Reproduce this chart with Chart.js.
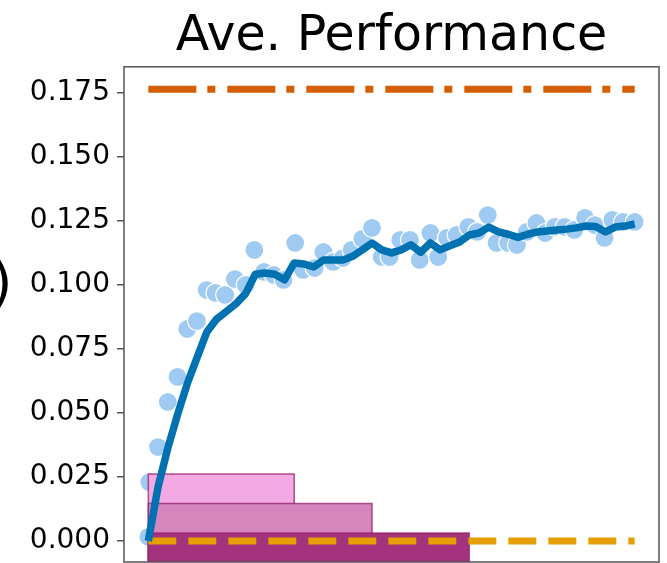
<!DOCTYPE html>
<html>
<head>
<meta charset="utf-8">
<title>Ave. Performance</title>
<script src="https://cdn.jsdelivr.net/npm/chart.js@4/dist/chart.umd.min.js"></script>
<style>
  html, body { margin: 0; padding: 0; background: #ffffff; overflow: hidden; }
  #wrap { position: relative; width: 667px; height: 563px; }
  #chart { position: absolute; left: 0; top: 0; }
  #sideMark {
    position: absolute; left: -9px; top: 255px;
    font-family: "DejaVu Sans", sans-serif; font-size: 55px; line-height: 55px;
    color: #000;
  }
</style>
</head>
<body>
<div id="wrap">
  <canvas id="chart" width="667" height="563"></canvas>
  <div id="sideMark">)</div>
</div>
<script>
// Training steps for the running-average curve
const steps = [0, 1, 2, 3, 4, 5, 6, 7, 8, 9, 10, 11, 12, 13, 14, 15, 16, 17, 18, 19, 20,
  21, 22, 23, 24, 25, 26, 27, 28, 29, 30, 31, 32, 33, 34, 35, 36, 37, 38, 39, 40,
  41, 42, 43, 44, 45, 46, 47, 48, 49, 50];

// Smoothed average performance per step
const avgPerformance = [0.0000, 0.0211, 0.0362, 0.0493, 0.0614, 0.0715, 0.0815, 0.0866, 0.0896, 0.0926,
  0.0966, 0.1042, 0.1047, 0.1042, 0.1020, 0.1086, 0.1082, 0.1070, 0.1097, 0.1097,
  0.1097, 0.1112, 0.1137, 0.1164, 0.1137, 0.1125, 0.1137, 0.1157, 0.1128, 0.1164,
  0.1137, 0.1153, 0.1168, 0.1195, 0.1203, 0.1226, 0.1207, 0.1198, 0.1186, 0.1198,
  0.1207, 0.1211, 0.1215, 0.1218, 0.1223, 0.1230, 0.1228, 0.1207, 0.1226, 0.1230,
  0.1238];

// Raw evaluations (step, value)
const scatterSteps = [0, 0.1, 1, 2, 3, 4, 5, 6, 6.9, 7.9, 8.9, 10, 10.9, 11.9, 12.9, 13.9,
  15.1, 15.9, 17.1, 18, 19, 20, 20.9, 22, 23, 24, 24.8, 25.9, 26.9, 27.9, 29, 29.8,
  30.7, 31.7, 32.9, 33.8, 34.9, 35.8, 37, 37.9, 38.9, 39.9, 40.8, 41.8, 42.8, 43.8,
  44.9, 45.9, 46.9, 47.7, 48.8, 50];
const scatterPerformance = [0.0016, 0.0230, 0.0367, 0.0543, 0.0641, 0.0828, 0.0859, 0.0980, 0.0969, 0.0961,
  0.1023, 0.1000, 0.1137, 0.1051, 0.1039, 0.1020, 0.1164, 0.1059, 0.1066, 0.1129,
  0.1090, 0.1105, 0.1137, 0.1180, 0.1223, 0.1109, 0.1109, 0.1176, 0.1176, 0.1098,
  0.1203, 0.1109, 0.1184, 0.1195, 0.1227, 0.1207, 0.1273, 0.1164, 0.1164, 0.1156,
  0.1207, 0.1242, 0.1203, 0.1227, 0.1227, 0.1215, 0.1262, 0.1234, 0.1184, 0.1254,
  0.1246, 0.1246];

// Shaded phases: each spans from step 0 to its end step, up to its height
const bandEnds = [15, 23, 33];
const bandTops = [0.0262, 0.0146, 0.0031];
const bandFills = ['#f3a9e2', '#d587bd', '#a2337c'];

// Reference levels
const upperReference = 0.1764;
const lowerReference = 0.0;

// Y tick labels
const yTicks = [0.000, 0.025, 0.050, 0.075, 0.100, 0.125, 0.150, 0.175];

const Y_MIN = -0.0082;
const Y_MAX = 0.1852;
const X_MIN = -2.5;
const X_MAX = 52.5;

const firstStep = steps[0];
const lastStep = steps[steps.length - 1];

const curve = steps.map((s, i) => ({ x: s, y: avgPerformance[i] }));
const evals = scatterSteps.map((s, i) => ({ x: s, y: scatterPerformance[i] }));

// Later (lower, longer) phases are painted over the earlier ones
const bandDatasets = bandEnds.map((end, i) => ({
  type: 'line',
  data: [
    { x: firstStep, y: Y_MIN },
    { x: firstStep, y: bandTops[i] },
    { x: end, y: bandTops[i] },
    { x: end, y: Y_MIN }
  ],
  borderColor: 'rgba(150, 30, 110, 0.75)',
  borderWidth: 1.5,
  backgroundColor: bandFills[i],
  fill: 'start',
  pointRadius: 0,
  tension: 0,
  order: 3 + (bandEnds.length - 1 - i)
}));

// Frame around the plotting area
const framePlugin = {
  id: 'frame',
  afterDraw(chart) {
    const { ctx, chartArea: a } = chart;
    ctx.save();
    ctx.strokeStyle = '#555555';
    ctx.lineWidth = 1.5;
    ctx.strokeRect(a.left, a.top, a.right - a.left, a.bottom - a.top);
    ctx.restore();
  }
};

new Chart(document.getElementById('chart'), {
  type: 'line',
  data: {
    datasets: [
      {
        type: 'line',
        data: curve,
        borderColor: '#0072b2',
        borderWidth: 7.5,
        borderJoinStyle: 'round',
        borderCapStyle: 'butt',
        pointRadius: 0,
        tension: 0,
        fill: false,
        order: 0
      },
      {
        type: 'line',
        data: [{ x: firstStep, y: upperReference }, { x: lastStep, y: upperReference }],
        borderColor: '#d55e00',
        borderWidth: 7,
        borderDash: [48, 11, 8, 12],
        borderCapStyle: 'butt',
        pointRadius: 0,
        fill: false,
        order: 1
      },
      {
        type: 'line',
        data: [{ x: firstStep, y: lowerReference }, { x: lastStep, y: lowerReference }],
        borderColor: '#e69f00',
        borderWidth: 7,
        borderDash: [28, 12],
        borderCapStyle: 'butt',
        pointRadius: 0,
        fill: false,
        order: 2
      },
      ...bandDatasets,
      {
        type: 'scatter',
        data: evals,
        backgroundColor: '#9fcaf2',
        borderColor: '#ffffff',
        borderWidth: 1.2,
        pointRadius: 9.5,
        showLine: false,
        order: 10
      }
    ]
  },
  options: {
    responsive: false,
    devicePixelRatio: 1,
    animation: false,
    layout: { autoPadding: false, padding: { left: 0, right: 8, top: 0, bottom: 1 } },
    plugins: {
      legend: { display: false },
      tooltip: { enabled: false },
      title: {
        display: true,
        text: 'Ave. Performance',
        fullSize: false,
        color: '#000000',
        font: { family: 'DejaVu Sans', size: 49, weight: 'normal', lineHeight: 1.2 },
        padding: { top: 8, bottom: 0 }
      }
    },
    scales: {
      x: {
        type: 'linear',
        min: X_MIN,
        max: X_MAX,
        display: false
      },
      y: {
        type: 'linear',
        min: Y_MIN,
        max: Y_MAX,
        afterFit(scale) {
          scale.width = 124;
          scale.paddingTop = 0;
          scale.paddingBottom = 0;
        },
        afterBuildTicks(scale) { scale.ticks = yTicks.map(v => ({ value: v })); },
        border: { display: false },
        grid: {
          display: true,
          drawOnChartArea: false,
          drawTicks: true,
          tickLength: 7,
          color: '#555555',
          lineWidth: 1.5
        },
        ticks: {
          padding: 7,
          color: '#000000',
          font: { family: 'DejaVu Sans', size: 28 },
          callback: v => Number(v).toFixed(3)
        }
      }
    }
  },
  plugins: [framePlugin]
});
</script>
</body>
</html>
